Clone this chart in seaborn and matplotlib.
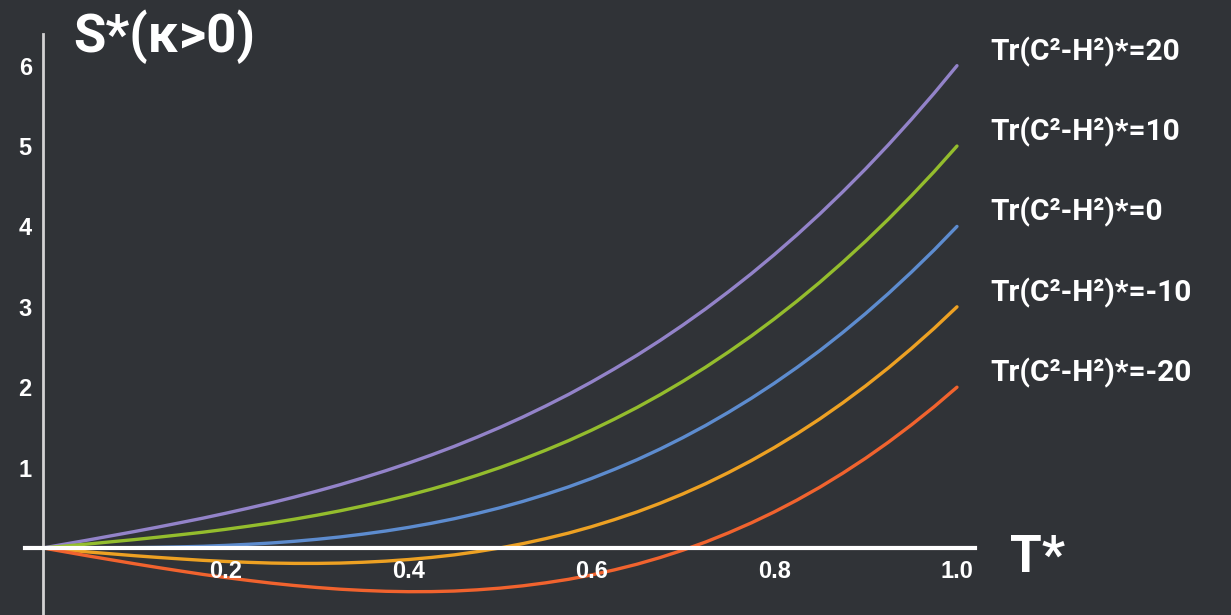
import numpy as np
import pandas as pd
import matplotlib
matplotlib.use("Agg")
import matplotlib.pyplot as plt
import seaborn as sns

# Dimensionless temperature samples
t_star = [0.000, 0.025, 0.050, 0.075, 0.100, 0.125, 0.150, 0.175, 0.200, 0.225,
          0.250, 0.275, 0.300, 0.325, 0.350, 0.375, 0.400, 0.425, 0.450, 0.475,
          0.500, 0.525, 0.550, 0.575, 0.600, 0.625, 0.650, 0.675, 0.700, 0.725,
          0.750, 0.775, 0.800, 0.825, 0.850, 0.875, 0.900, 0.925, 0.950, 0.975,
          1.000]

# Entropy S* for each value of Tr(C^2 - H^2)*
s_tr_p20 = [0.000, 0.050, 0.100, 0.152, 0.204, 0.258, 0.314, 0.371, 0.432, 0.496,
            0.562, 0.633, 0.708, 0.787, 0.872, 0.961, 1.056, 1.157, 1.264, 1.379,
            1.500, 1.629, 1.766, 1.910, 2.064, 2.227, 2.398, 2.580, 2.772, 2.974,
            3.188, 3.412, 3.648, 3.896, 4.156, 4.430, 4.716, 5.016, 5.330, 5.657,
            6.000]
s_tr_p10 = [0.000, 0.025, 0.050, 0.077, 0.104, 0.133, 0.164, 0.196, 0.232, 0.271,
            0.312, 0.358, 0.408, 0.462, 0.522, 0.586, 0.656, 0.732, 0.814, 0.904,
            1.000, 1.104, 1.216, 1.335, 1.464, 1.602, 1.748, 1.905, 2.072, 2.249,
            2.438, 2.637, 2.848, 3.071, 3.306, 3.555, 3.816, 4.091, 4.380, 4.682,
            5.000]
s_tr_0 = [0.000, 0.000, 0.000, 0.002, 0.004, 0.008, 0.014, 0.021, 0.032, 0.046,
          0.062, 0.083, 0.108, 0.137, 0.172, 0.211, 0.256, 0.307, 0.364, 0.429,
          0.500, 0.579, 0.666, 0.760, 0.864, 0.977, 1.098, 1.230, 1.372, 1.524,
          1.688, 1.862, 2.048, 2.246, 2.456, 2.680, 2.916, 3.166, 3.430, 3.707,
          4.000]
s_tr_m10 = [0.000, -0.025, -0.050, -0.073, -0.096, -0.117, -0.136, -0.154, -0.168, -0.179,
            -0.188, -0.192, -0.192, -0.188, -0.178, -0.164, -0.144, -0.118, -0.086, -0.046,
            0.000, 0.054, 0.116, 0.185, 0.264, 0.352, 0.448, 0.555, 0.672, 0.799,
            0.938, 1.087, 1.248, 1.421, 1.606, 1.805, 2.016, 2.241, 2.480, 2.732,
            3.000]
s_tr_m20 = [0.000, -0.050, -0.100, -0.148, -0.196, -0.242, -0.286, -0.329, -0.368, -0.404,
            -0.438, -0.467, -0.492, -0.513, -0.528, -0.539, -0.544, -0.543, -0.536, -0.521,
            -0.500, -0.471, -0.434, -0.390, -0.336, -0.273, -0.202, -0.120, -0.028, 0.074,
            0.188, 0.312, 0.448, 0.596, 0.756, 0.930, 1.116, 1.316, 1.530, 1.757,
            2.000]

series_labels = ["Tr(C²-H²)*=20", "Tr(C²-H²)*=10", "Tr(C²-H²)*=0",
                 "Tr(C²-H²)*=-10", "Tr(C²-H²)*=-20"]
series_values = [s_tr_p20, s_tr_p10, s_tr_0, s_tr_m10, s_tr_m20]
series_colors = ["#9383C9", "#94BD2D", "#5D8CCF", "#EDA123", "#F1632E"]

x_tick_values = [0.2, 0.4, 0.6, 0.8, 1.0]
x_tick_labels = ["0.2", "0.4", "0.6", "0.8", "1.0"]
y_tick_values = [1, 2, 3, 4, 5, 6]
y_tick_labels = ["1", "2", "3", "4", "5", "6"]

frames = [pd.DataFrame({"T": t_star, "S": vals, "series": lab})
          for lab, vals in zip(series_labels, series_values)]
df = pd.concat(frames, ignore_index=True)

sns.set_style("dark")
bg = "#303337"
narrow = ["Roboto", "DejaVu Sans"]
plt.rcParams["font.family"] = ["Liberation Sans", "DejaVu Sans"]

fig = plt.figure(figsize=(12.31, 6.15), dpi=100, facecolor=bg)
ax = fig.add_axes([0, 0, 1, 1])
ax.set_facecolor(bg)

sns.lineplot(data=df, x="T", y="S", hue="series", hue_order=series_labels,
             palette=dict(zip(series_labels, series_colors)), linewidth=2.4,
             legend=False, ax=ax, sort=False)
for line in ax.lines:
    line.set_solid_joinstyle("round")
    line.set_solid_capstyle("round")

ax.set_xlim(-0.047, 1.2998)
ax.set_ylim(-0.834, 6.817)
ax.set_axisbelow(False)
ax.grid(False)

for side in ("top", "right"):
    ax.spines[side].set_visible(False)
ax.spines["left"].set_position(("data", 0))
ax.spines["bottom"].set_position(("data", 0))
ax.spines["left"].set_bounds(-0.9, 6.4)
ax.spines["bottom"].set_bounds(-0.02, 1.02)
ax.spines["left"].set_color("#d2d2d2")
ax.spines["left"].set_linewidth(2.0)
ax.spines["bottom"].set_color("white")
ax.spines["bottom"].set_linewidth(3.0)
ax.spines["left"].set_zorder(3)
ax.spines["bottom"].set_zorder(3)

ax.set_xticks(x_tick_values)
ax.set_xticklabels(x_tick_labels)
ax.set_xticks(np.arange(0.05, 0.96, 0.05), minor=True)
ax.set_yticks(y_tick_values)
ax.set_yticklabels(y_tick_labels)
ax.set_yticks(np.arange(-0.8, 6.41, 0.2), minor=True)

tick_color = "#8a8a8a"
ax.tick_params(axis="x", which="major", direction="in", length=7, width=1.8,
               color=tick_color, labelcolor="white", labelsize=17, pad=9)
ax.tick_params(axis="x", which="minor", direction="in", length=4, width=1.8,
               color=tick_color)
ax.tick_params(axis="y", which="major", direction="in", length=10, width=1.8,
               color=tick_color, labelcolor="white", labelsize=17, pad=8)
ax.tick_params(axis="y", which="minor", direction="in", length=6, width=1.8,
               color=tick_color)
for lab in ax.get_xticklabels() + ax.get_yticklabels():
    lab.set_fontweight("bold")

ax.set_xlabel("")
ax.set_ylabel("")

# Axis titles
ax.text(73 / 1231, 1 - 52 / 615, "S*(κ>0)", transform=ax.transAxes,
        fontsize=38, fontweight="bold", color="white", family=narrow,
        ha="left", va="baseline")
ax.text(1010 / 1231, 1 - 572 / 615, "T*", transform=ax.transAxes,
        fontsize=37, fontweight="bold", color="white", family=narrow,
        ha="left", va="baseline")

# Curve labels at the right-hand ends
for lab, vals in zip(series_labels, series_values):
    ax.text(1.036, vals[-1] + 0.07, lab, fontsize=21.5, fontweight="bold",
            color="white", family=narrow, ha="left", va="baseline")

fig.savefig("out.png", dpi=100, facecolor=bg)
